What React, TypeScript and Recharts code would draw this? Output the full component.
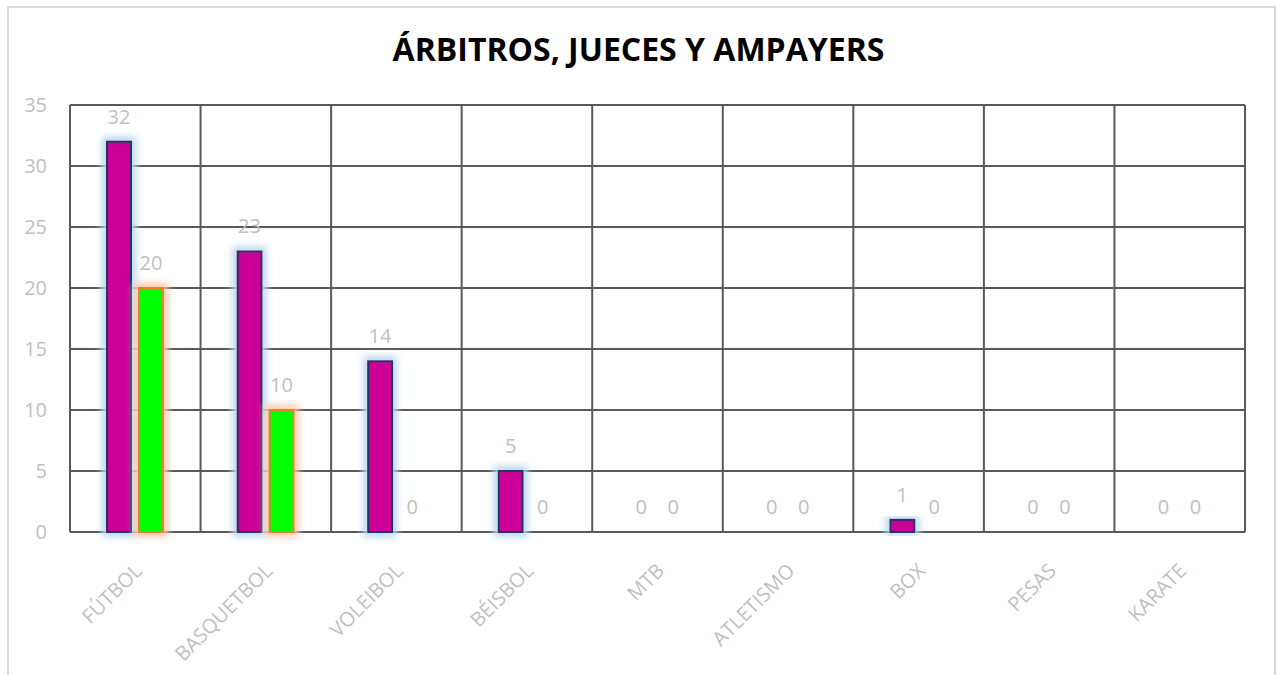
import React from 'react';
import { BarChart, Bar, XAxis, YAxis, CartesianGrid, LabelList } from 'recharts';

const categories = ['FÚTBOL', 'BASQUETBOL', 'VOLEIBOL', 'BÉISBOL', 'MTB', 'ATLETISMO', 'BOX', 'PESAS', 'KARATE'];
const seriesA = [32, 23, 14, 5, 0, 0, 1, 0, 0];
const seriesB = [20, 10, 0, 0, 0, 0, 0, 0, 0];
const yTicks = [0, 5, 10, 15, 20, 25, 30, 35];

const data = categories.map((name, i) => ({ name, a: seriesA[i], b: seriesB[i] }));

const FONT = '"Open Sans", "Noto Sans", sans-serif';
const GRAY = '#bfbfbf';

const GlowBar = (glow: string, fill: string, stroke: string) => (props: any) => {
  const { x, y, width, height } = props;
  if (!height || height <= 0) return <g />;
  return (
    <rect x={x} y={y} width={width} height={height} fill={fill} stroke={stroke} strokeWidth={2} filter={`url(#${glow})`} />
  );
};

const XTick = (props: any) => {
  const { x, y, payload } = props;
  return (
    <text
      x={x + 8}
      y={y + 32}
      transform={`rotate(-45, ${x + 8}, ${y + 32})`}
      textAnchor="end"
      fill={GRAY}
      fontSize={20}
      fontFamily={FONT}
    >
      {payload.value}
    </text>
  );
};

export default function App() {
  return (
    <div style={{ position: 'absolute', left: 0, top: 0, width: 1277, height: 675, overflow: 'hidden', background: '#fff' }}>
      <svg width={0} height={0} style={{ position: 'absolute' }}>
        <defs>
          <filter id="glowBlue" x="-80%" y="-30%" width="260%" height="160%">
            <feMorphology operator="dilate" radius={4} in="SourceAlpha" result="d" />
            <feGaussianBlur in="d" stdDeviation={3.5} result="b" />
            <feFlood floodColor="#bdd7ee" floodOpacity={1} />
            <feComposite in2="b" operator="in" result="g" />
            <feMerge>
              <feMergeNode in="g" />
              <feMergeNode in="SourceGraphic" />
            </feMerge>
          </filter>
          <filter id="glowOrange" x="-80%" y="-30%" width="260%" height="160%">
            <feMorphology operator="dilate" radius={4} in="SourceAlpha" result="d" />
            <feGaussianBlur in="d" stdDeviation={3.5} result="b" />
            <feFlood floodColor="#f8cbad" floodOpacity={1} />
            <feComposite in2="b" operator="in" result="g" />
            <feMerge>
              <feMergeNode in="g" />
              <feMergeNode in="SourceGraphic" />
            </feMerge>
          </filter>
        </defs>
      </svg>
      <div
        style={{
          position: 'absolute',
          left: 7,
          top: 6,
          width: 1265,
          height: 700,
          border: '2px solid #d9d9d9',
        }}
      />
      <div
        style={{
          position: 'absolute',
          left: 0,
          top: 27,
          width: 1277,
          textAlign: 'center',
          fontFamily: FONT,
          fontWeight: 700,
          fontSize: 32,
          color: '#000',
        }}
      >
        ÁRBITROS, JUECES Y AMPAYERS
      </div>
      <div style={{ position: 'absolute', left: 0, top: 0 }}>
        <BarChart
          width={1277}
          height={675}
          data={data}
          margin={{ top: 105, right: 32, left: 10, bottom: 0 }}
          barSize={24}
          barGap={8}
        >
          <CartesianGrid
            stroke="#595959"
            strokeWidth={2}
            verticalCoordinatesGenerator={({ offset }: any) =>
              Array.from({ length: categories.length + 1 }, (_, i) => offset.left + (i * offset.width) / categories.length)
            }
          />
          <XAxis dataKey="name" height={143} axisLine={false} tickLine={false} tick={<XTick />} interval={0} />
          <YAxis
            width={60}
            domain={[0, 35]}
            ticks={yTicks}
            axisLine={false}
            tickLine={false}
            tickSize={0}
            tickMargin={23}
            tick={{ fill: GRAY, fontSize: 20, fontFamily: FONT }}
          />
          <Bar dataKey="a" isAnimationActive={false} shape={GlowBar('glowBlue', '#cc0099', '#1f3864')}>
            <LabelList dataKey="a" position="top" offset={18} fill={GRAY} fontSize={20} fontFamily={FONT} />
          </Bar>
          <Bar dataKey="b" isAnimationActive={false} shape={GlowBar('glowOrange', '#00ff00', '#ed7d31')}>
            <LabelList dataKey="b" position="top" offset={18} fill={GRAY} fontSize={20} fontFamily={FONT} />
          </Bar>
        </BarChart>
      </div>
    </div>
  );
}
